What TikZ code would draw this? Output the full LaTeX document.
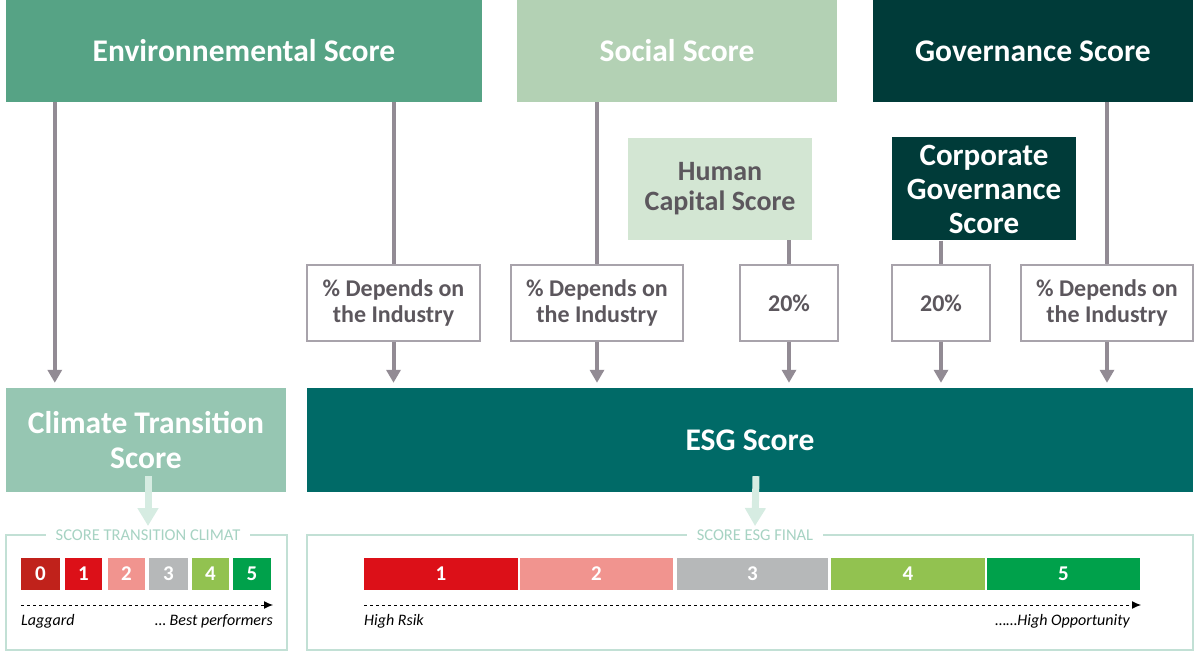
\documentclass[tikz,border=0pt]{standalone}
\usepackage{fontspec}
\setmainfont{Carlito}
\usetikzlibrary{arrows.meta,calc}

\definecolor{envcol}{HTML}{56A385}
\definecolor{soccol}{HTML}{B3D1B4}
\definecolor{govcol}{HTML}{003B39}
\definecolor{humcol}{HTML}{D3E6D3}
\definecolor{climcol}{HTML}{96C6B2}
\definecolor{esgcol}{HTML}{006A67}
\definecolor{arrcol}{HTML}{928B94}
\definecolor{boxcol}{HTML}{A8A3AB}
\definecolor{txtcol}{HTML}{5C575D}
\definecolor{lightcol}{HTML}{D6ECE2}
\definecolor{framecol}{HTML}{C2E0D5}
\definecolor{titlecol}{HTML}{A7D3C3}
\definecolor{sczero}{HTML}{C0221B}
\definecolor{scone}{HTML}{DC1018}
\definecolor{sctwo}{HTML}{F1948F}
\definecolor{scthree}{HTML}{B6B8B9}
\definecolor{scfour}{HTML}{92C250}
\definecolor{scfive}{HTML}{00A14B}

\tikzset{
  bigbox/.style={inner sep=0pt, text=white, align=center,
    font=\fontsize{31.5}{35}\selectfont\bfseries},
  pctbox/.style={draw=boxcol, line width=1.5pt, fill=white, inner sep=0pt,
    text=txtcol, align=center, minimum height=76pt,
    font=\fontsize{24}{26}\selectfont\bfseries},
  feed/.style={draw=arrcol, line width=4pt,
    -{Triangle[width=14pt,length=13pt]}},
  link/.style={draw=arrcol, line width=4pt},
  soft/.style={draw=lightcol, line width=7pt,
    -{Triangle[width=20pt,length=18pt]}},
  frame/.style={draw=framecol, line width=1.2pt},
  ftitle/.style={fill=white, text=titlecol, inner xsep=10pt,
    font=\fontsize{16.5}{18}\selectfont},
  cell/.style={inner sep=0pt, text=white, minimum height=32pt,
    font=\fontsize{21}{22}\selectfont\bfseries},
  trend/.style={line width=1pt, dashed, -{Latex[length=9pt,width=8pt]}},
  note/.style={inner sep=0pt, font=\fontsize{16}{18}\selectfont\itshape}
}

\begin{document}
\begin{tikzpicture}[x=1pt,y=-1pt]
\useasboundingbox (0,0) rectangle (1195,652);

% pillars
\node [bigbox, fill=envcol, minimum width=476pt, minimum height=102pt] (env) at (244,51) {Environnemental Score};
\node [bigbox, fill=soccol, minimum width=320pt, minimum height=102pt] (soc) at (677,51) {Social Score};
\node [bigbox, fill=govcol, minimum width=320pt, minimum height=102pt] (gov) at (1033,51) {Governance Score};

\node [bigbox, fill=humcol, text=txtcol, minimum width=184pt, minimum height=102pt,
  font=\fontsize{28}{30}\selectfont\bfseries] (hum) at (720,189) {Human\\Capital Score};
\node [bigbox, fill=govcol, minimum width=184pt, minimum height=103pt,
  font=\fontsize{31}{34}\selectfont\bfseries] (corp) at (984,189) {Corporate\\Governance\\Score};

% weights
\node [pctbox, minimum width=173pt] (wenv) at (393.5,303) {\% Depends on\\the Industry};
\node [pctbox, minimum width=172pt] (wsoc) at (597,303) {\% Depends on\\the Industry};
\node [pctbox, minimum width=98pt] (whum) at (789,303) {20\%};
\node [pctbox, minimum width=98pt] (wcorp) at (941,303) {20\%};
\node [pctbox, minimum width=172pt] (wgov) at (1107,303) {\% Depends on\\the Industry};

% results
\node [bigbox, fill=climcol, minimum width=280pt, minimum height=104pt] (clim) at (146,440) {Climate Transition\\Score};
\node [bigbox, fill=esgcol, minimum width=886pt, minimum height=104pt] (esg) at (750,440) {ESG Score};

% connectors
\coordinate (e1) at ($(env.south west)+(49,0)$);
\draw [feed] (e1) -- ($(e1 |- clim.north)+(0,-5)$);
\draw [link] (env.south -| wenv) -- (wenv.north);
\draw [feed] (wenv.south) -- ($(wenv |- esg.north)+(0,-5)$);
\draw [link] (soc.south -| wsoc) -- (wsoc.north);
\draw [feed] (wsoc.south) -- ($(wsoc |- esg.north)+(0,-5)$);
\draw [link] (hum.south -| whum) -- (whum.north);
\draw [feed] (whum.south) -- ($(whum |- esg.north)+(0,-5)$);
\draw [link] (corp.south -| wcorp) -- (wcorp.north);
\draw [feed] (wcorp.south) -- ($(wcorp |- esg.north)+(0,-5)$);
\draw [link] (gov.south -| wgov) -- (wgov.north);
\draw [feed] (wgov.south) -- ($(wgov |- esg.north)+(0,-5)$);

% final scales
\draw [frame] (6,535) rectangle (287,650);
\draw [frame] (307,535) rectangle (1193,650);
\node [ftitle] (tclim) at (148,535) {SCORE TRANSITION CLIMAT};
\node [ftitle] (tesg) at (755,535) {SCORE ESG FINAL};
\draw [soft] ($(clim.south)+(2,-16)$) -- (tclim.north);
\draw [soft] ($(esg.south)+(6,-16)$) -- (tesg.north);

\node [cell, fill=sczero, minimum width=39pt] (c0) at (40.5,574) {0};
\node [cell, fill=scone, minimum width=37pt] (c1) at (83.5,574) {1};
\node [cell, fill=sctwo, minimum width=37pt] (c2) at (126.5,574) {2};
\node [cell, fill=scthree, minimum width=39pt] (c3) at (168.5,574) {3};
\node [cell, fill=scfour, minimum width=37pt] (c4) at (210.5,574) {4};
\node [cell, fill=scfive, minimum width=38pt] (c5) at (252,574) {5};
\coordinate (a0) at (21,605);
\coordinate (a5) at (273,605);
\draw [trend] (a0) -- (a5);
\node [note, anchor=west] (lag) at (21,621) {Laggard};
\node [note, anchor=east] (best) at (273,621) {\dots\ Best performers};

\node [cell, fill=scone, minimum width=154pt] (s1) at (441,574) {1};
\node [cell, fill=sctwo, minimum width=153pt] (s2) at (596.5,574) {2};
\node [cell, fill=scthree, minimum width=151pt] (s3) at (752.5,574) {3};
\node [cell, fill=scfour, minimum width=154pt] (s4) at (908,574) {4};
\node [cell, fill=scfive, minimum width=153pt] (s5) at (1063.5,574) {5};
\coordinate (b0) at (364,605);
\coordinate (b5) at (1141,605);
\draw [trend] (b0) -- (b5);
\node [note, anchor=west] (risk) at (364,621) {High Rsik};
\node [note, anchor=east] (opp) at (1130,621) {\dots\dots High Opportunity};

\end{tikzpicture}
\end{document}
